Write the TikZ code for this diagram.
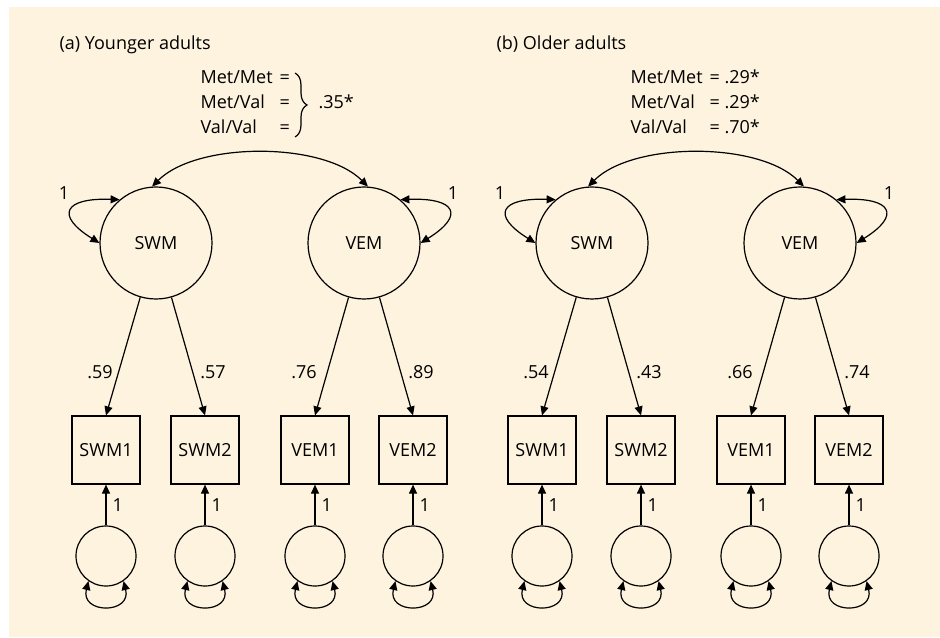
\documentclass[tikz,border=0pt]{standalone}
\usepackage{fontspec}
\setmainfont{Open Sans}
\usetikzlibrary{arrows.meta,decorations.pathreplacing}
\definecolor{cream}{RGB}{254,243,222}
\begin{document}
\begin{tikzpicture}[x=0.5pt,y=0.5pt,
  font=\fontsize{9}{11}\selectfont,
  line width=0.6pt,
  >={Triangle[length=4.5pt,width=4pt]},
  lat/.style={circle,draw,minimum size=56pt,inner sep=0pt},
  obs/.style={rectangle,draw,minimum size=34pt,inner sep=0pt},
  err/.style={circle,draw,minimum size=30pt,inner sep=0pt},
  lbl/.style={inner sep=0pt}]
\useasboundingbox (0,0) rectangle (940,637);
\fill[cream] (9,0) rectangle (940,630);

% titles
\node[lbl,anchor=base west] (titleA) at (59,587) {(a) Younger adults};
\node[lbl,anchor=base west] (titleB) at (496,587) {(b) Older adults};

% genotype text, panel a
\node[lbl,anchor=base west] (gA1) at (200,553) {Met/Met};
\node[lbl,anchor=base west] (gA2) at (200,528) {Met/Val};
\node[lbl,anchor=base west] (gA3) at (200,503) {Val/Val};
\node[lbl,anchor=base west] (qA1) at (279,553) {=};
\node[lbl,anchor=base west] (qA2) at (279,528) {=};
\node[lbl,anchor=base west] (qA3) at (279,503) {=};
\draw[decorate,decoration={brace,amplitude=6pt}] (295,564) -- (295,500);
\node[lbl,anchor=base west] (rA) at (318,528) {.35*};

% genotype text, panel b
\node[lbl,anchor=base west] (gB1) at (630,553) {Met/Met};
\node[lbl,anchor=base west] (gB2) at (630,528) {Met/Val};
\node[lbl,anchor=base west] (gB3) at (630,503) {Val/Val};
\node[lbl,anchor=base west] (qB1) at (709,553) {= .29*};
\node[lbl,anchor=base west] (qB2) at (709,528) {= .29*};
\node[lbl,anchor=base west] (qB3) at (709,503) {= .70*};

\foreach \p/\off/\a/\b/\c/\d in {L/0/.59/.57/.76/.89, R/436/.54/.43/.66/.74}{
  \node[lat] (swm\p) at (156+\off,394) {SWM};
  \node[lat] (vem\p) at (364+\off,394) {VEM};
  \draw[<->] (swm\p.94) .. controls +(45,45) and +(-45,45) .. (vem\p.86);
  \draw[<->] (swm\p.130) .. controls +(-55,2) and +(-45,28) .. (swm\p.180);
  \draw[<->] (vem\p.50) .. controls +(55,2) and +(45,28) .. (vem\p.0);
  \node[lbl] (one1\p) at (64+\off,444) {1};
  \node[lbl] (one2\p) at (453+\off,444) {1};
  \foreach \n/\x/\t in {1/106/SWM1,2/205/SWM2,3/315/VEM1,4/413/VEM2}{
    \node[obs] (o\p\n) at (\x+\off,187) {\t};
    \node[err] (e\p\n) at (\x+\off,81) {};
    \draw[->] (e\p\n) -- node[lbl,midway,right=3pt] (w\p\n) {1} (o\p\n);
    \draw[<->] (e\p\n.-125) to[out=-104,in=-76,looseness=2.5] (e\p\n.-55);
  }
  \draw[->] (swm\p) -- (o\p1.north);
  \draw[->] (swm\p) -- (o\p2.north);
  \draw[->] (vem\p) -- (o\p3.north);
  \draw[->] (vem\p) -- (o\p4.north);
  \node[lbl] (l1\p) at (100+\off,265) {\a};
  \node[lbl] (l2\p) at (213+\off,265) {\b};
  \node[lbl] (l3\p) at (304+\off,265) {\c};
  \node[lbl] (l4\p) at (421+\off,265) {\d};
}
\end{tikzpicture}
\end{document}
